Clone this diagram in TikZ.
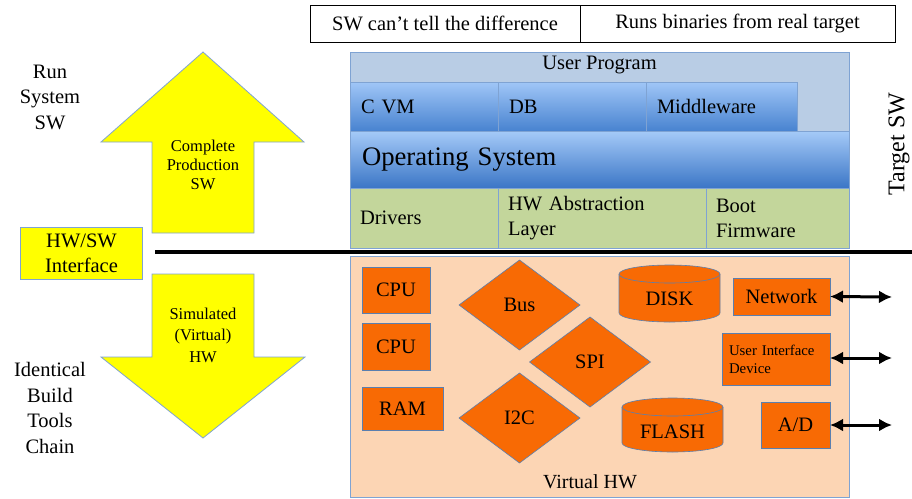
\documentclass[tikz,border=0pt]{standalone}
\usepackage{fontspec}
\setmainfont{Liberation Serif}
\usetikzlibrary{shapes.geometric,arrows.meta}

\definecolor{upbg}{HTML}{B9CDE5}
\definecolor{blueTop}{HTML}{A0C6F7}
\definecolor{blueBot}{HTML}{4883D0}
\definecolor{osTop}{HTML}{A5CAF8}
\definecolor{osBot}{HTML}{3B76C6}
\definecolor{layerGreen}{HTML}{C3D69B}
\definecolor{hwBg}{HTML}{FCD5B4}
\definecolor{hwOrange}{HTML}{F86A04}
\definecolor{edgeBlue}{HTML}{7FA3D3}
\definecolor{edgeDark}{HTML}{5A7FB0}
\definecolor{arrowYellow}{HTML}{FFFF00}

\newcommand{\fs}[2]{\fontsize{#1}{#2}\selectfont}

\begin{document}
\begin{tikzpicture}[x=1pt,y=-1pt,
  every node/.style={inner sep=0pt, outer sep=0pt},
  topbox/.style={draw=black, line width=0.8pt, fill=white, font=\fs{20.5}{24}},
  swbox/.style={draw=edgeBlue, line width=0.6pt, top color=blueTop, bottom color=blueBot,
    font=\fs{20.5}{24}, align=left, inner xsep=11pt},
  osbar/.style={draw=edgeBlue, line width=0.6pt, top color=osTop, bottom color=osBot,
    font=\fs{26.7}{30}, align=left, inner xsep=12pt},
  greenbox/.style={draw=edgeBlue, line width=0.6pt, fill=layerGreen,
    font=\fs{20.5}{25}, align=left, inner xsep=10pt},
  hwbox/.style={draw=edgeDark, line width=0.6pt, fill=hwOrange, font=\fs{20.5}{24}},
  hwdiamond/.style={draw=edgeDark, line width=0.6pt, fill=hwOrange, shape=diamond,
    minimum width=121pt, minimum height=90pt, font=\fs{20.5}{24}},
  hwdrum/.style={draw=edgeDark, line width=0.6pt, fill=hwOrange},
  yellowshape/.style={draw=edgeBlue, line width=0.8pt, fill=arrowYellow},
  sidetext/.style={font=\fs{20.5}{25.5}, align=center},
  io/.style={{Latex[length=13pt,width=13pt]}-{Latex[length=13pt,width=13pt]}, line width=3pt}
]
\useasboundingbox (0,0) rectangle (912,498);

% --- headline boxes ---
\node[topbox, minimum width=270pt, minimum height=37pt] (same) at (445,23.5) {SW can’t tell the difference};
\node[topbox, minimum width=315pt, minimum height=37pt] (bins) at (737.5,23.5) {Runs binaries from real target};

% --- software stack ---
\node[draw=edgeBlue, line width=0.6pt, fill=upbg, minimum width=499pt, minimum height=80pt, anchor=north west] (userprog) at (350,52) {};
\node[anchor=north, font=\fs{20.5}{24}, inner ysep=4pt] (uptitle) at (userprog.north) {User Program};

\node[swbox, text width=126pt, minimum height=49pt] (cvm) at (424,106.5) {C VM};
\node[swbox, text width=126pt, minimum height=49pt] (db) at (572,106.5) {DB};
\node[swbox, text width=129pt, minimum height=49pt] (mw) at (721.5,106.5) {Middleware};

\node[osbar, text width=475pt, minimum height=57pt] (os) at (599.5,159.5) {Operating System};

\node[greenbox, text width=128pt, minimum height=60pt] (drv) at (424,218) {Drivers};
\node[greenbox, text width=188pt, minimum height=60pt] (hal) at (602,218) {HW Abstraction\\Layer};
\node[greenbox, text width=123pt, minimum height=60pt] (boot) at (777.5,218) {Boot\\Firmware};

\node[rotate=90, font=\fs{24}{28}] (tsw) at (899,144) {Target SW};

% --- virtual hardware ---
\node[draw=edgeBlue, line width=0.6pt, fill=hwBg, minimum width=499pt, minimum height=241pt] (vhw) at (599.5,376.5) {};
\node[font=\fs{20}{24}] (vhwtitle) at (590,482) {Virtual HW};

\node[hwbox, minimum width=68pt, minimum height=46pt] (cpu1) at (396,290) {CPU};
\node[hwbox, minimum width=68pt, minimum height=47pt] (cpu2) at (396,346.5) {CPU};
\node[hwbox, minimum width=81pt, minimum height=43pt] (ram) at (402.5,408.5) {RAM};

\node[hwdiamond] (bus) at (519.5,305) {Bus};
\node[hwdiamond] (spi) at (590,362) {SPI};
\node[hwdiamond] (i2c) at (519.5,418) {I2C};

% storage drums
\filldraw[hwdrum] (619,274) -- (619,313) arc[start angle=180, end angle=0, x radius=50.5, y radius=9]
  -- (720,274) arc[start angle=0, end angle=-180, x radius=50.5, y radius=9] -- cycle;
\draw[edgeDark, line width=0.6pt] (619,274) arc[start angle=180, end angle=0, x radius=50.5, y radius=9];
\node[font=\fs{20.5}{24}] (disk) at (669.5,299) {DISK};

\filldraw[hwdrum] (622,407) -- (622,443) arc[start angle=180, end angle=0, x radius=50.5, y radius=9]
  -- (723,407) arc[start angle=0, end angle=-180, x radius=50.5, y radius=9] -- cycle;
\draw[edgeDark, line width=0.6pt] (622,407) arc[start angle=180, end angle=0, x radius=50.5, y radius=9];
\node[font=\fs{20.5}{24}] (flash) at (672.5,432) {FLASH};

\node[hwbox, minimum width=97pt, minimum height=37pt] (net) at (781.5,296.5) {Network};
\node[hwbox, minimum width=108pt, minimum height=52pt, font=\fs{14.8}{18}, align=left, text width=94pt] (uid) at (776,359) {User Interface\\Device};
\node[hwbox, minimum width=69pt, minimum height=46pt] (ad) at (795.5,425) {A/D};

\coordinate (netout) at (892,297);
\coordinate (uidout) at (892,358);
\coordinate (adout) at (892,425);
\draw[io] (net.east) -- (netout);
\draw[io] (uid.east |- uidout) -- (uidout);
\draw[io] (ad.east |- adout) -- (adout);

% --- hardware / software boundary ---
\coordinate (lineL) at (155,252);
\coordinate (lineR) at (912,252);
\draw[line width=3.5pt] (lineL) -- (lineR);

% --- left column ---
\node[sidetext] (runsys) at (50,97) {Run\\System\\SW};
\node[sidetext] (tools) at (50,408) {Identical\\Build\\Tools\\Chain};

\filldraw[yellowshape] (203,52) -- (304,142) -- (254,142) -- (254,233) -- (152,233) -- (152,142) -- (101,142) -- cycle;
\node[font=\fs{16.5}{19}, align=center] (prodsw) at (203,165) {Complete\\Production\\SW};

\filldraw[yellowshape] (152,274) -- (254,274) -- (254,357) -- (305,357) -- (203,438) -- (101,357) -- (152,357) -- cycle;
\node[font=\fs{16.5}{21.5}, align=center] (simhw) at (203,335) {Simulated\\(Virtual)\\HW};

\node[yellowshape, minimum width=122pt, minimum height=52pt, font=\fs{20.5}{25}, align=center] (hwsw) at (81.5,253.5) {HW/SW\\Interface};
\end{tikzpicture}
\end{document}
